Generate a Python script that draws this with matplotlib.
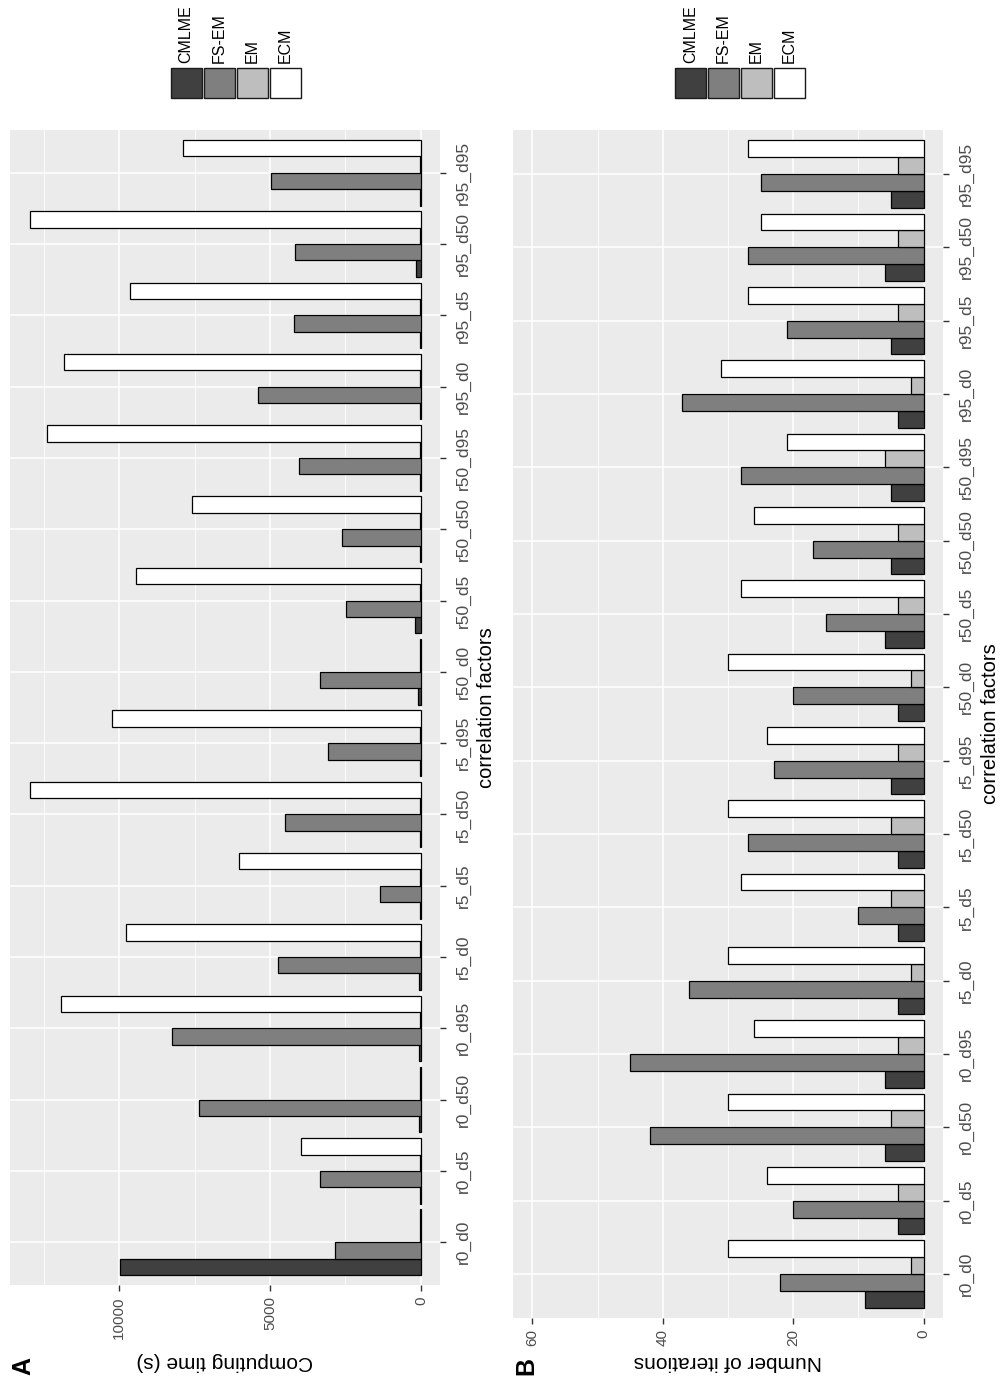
import matplotlib
matplotlib.use("Agg")
import matplotlib.pyplot as plt
import numpy as np
from matplotlib.patches import Rectangle

plt.rcParams["font.family"] = ["Liberation Sans", "DejaVu Sans"]

# scenario labels, bottom to top
categories = [
    "r0_d0", "r0_d5", "r0_d50", "r0_d95",
    "r5_d0", "r5_d5", "r5_d50", "r5_d95",
    "r50_d0", "r50_d5", "r50_d50", "r50_d95",
    "r95_d0", "r95_d5", "r95_d50", "r95_d95",
]
methods = ["CMLME", "FS-EM", "EM", "ECM"]
fills = ["#404040", "#7f7f7f", "#bebebe", "#ffffff"]

# computing time (s)
time_cmlme = [9987, 15, 50, 50, 50, 15, 15, 15, 110, 200, 15, 15, 15, 15, 166, 15]
time_fsem = [2860, 3337, 7350, 8258, 4733, 1363, 4490, 3082, 3337, 2472, 2616, 4057, 5410, 4201, 4157, 4966]
time_em = [15, 15, 15, 15, 15, 15, 15, 15, 15, 15, 15, 15, 15, 15, 15, 15]
time_ecm = [15, 3968, 15, 11917, 9788, 6042, 12970, 10233, 15, 9456, 7572, 12394, 11816, 9644, 12970, 7872]

# number of iterations
iter_cmlme = [9, 4, 6, 6, 4, 4, 4, 5, 4, 6, 5, 5, 4, 5, 6, 5]
iter_fsem = [22, 20, 42, 45, 36, 10, 27, 23, 20, 15, 17, 28, 37, 21, 27, 25]
iter_em = [2, 4, 5, 4, 2, 5, 5, 4, 2, 4, 4, 6, 2, 4, 4, 4]
iter_ecm = [30, 24, 30, 26, 30, 28, 30, 24, 30, 28, 26, 21, 31, 27, 25, 27]

W, H = 1002, 1379
fig = plt.figure(figsize=(W / 100, H / 100), dpi=100)


def px_rect(x0, y0, x1, y1):
    return [x0 / W, 1 - y1 / H, (x1 - x0) / W, (y1 - y0) / H]


def fxy(x, y):
    return x / W, 1 - y / H


def draw_panel(ax, series, xlim, major, minor):
    ax.set_facecolor("#ebebeb")
    y = np.arange(len(categories))
    w = 0.23
    for k, (vals, fc) in enumerate(zip(series, fills)):
        ax.barh(y + (k - 1.5) * w, vals, height=w, color=fc,
                edgecolor="black", linewidth=0.9, zorder=3)
    ax.set_xlim(*xlim)
    ax.set_ylim(-0.6, len(categories) - 0.4)
    ax.set_xticks(major)
    ax.set_xticks(minor, minor=True)
    ax.set_yticks(y)
    ax.set_yticklabels(categories)
    ax.grid(which="major", color="white", linewidth=1.1, zorder=0)
    ax.grid(which="minor", axis="x", color="white", linewidth=0.6, zorder=0)
    ax.set_axisbelow(True)
    for s in ax.spines.values():
        s.set_visible(False)
    ax.yaxis.tick_right()
    ax.tick_params(axis="y", which="major", length=4, width=1, color="#333333",
                   labelsize=12.5, labelcolor="#4d4d4d", pad=7)
    ax.tick_params(axis="x", which="major", length=4, width=1, color="#333333",
                   labelsize=11, labelcolor="#4d4d4d", pad=4)
    ax.tick_params(which="minor", length=0)
    plt.setp(ax.get_yticklabels(), rotation=90, va="center", ha="left")
    plt.setp(ax.get_xticklabels(), rotation=90, va="top", ha="center")


def draw_legend(x_start):
    for k, (name, fc) in enumerate(zip(methods, fills)):
        x0 = x_start + k * 33
        fig.add_artist(Rectangle(fxy(x0, 98), 31 / W, 30 / H,
                                 transform=fig.transFigure, facecolor=fc,
                                 edgecolor="#1a1a1a", linewidth=1.0))
        tx, ty = fxy(x0 + 15.5, 63)
        fig.text(tx, ty, name, rotation=90, ha="center", va="bottom",
                 fontsize=11.5, color="black")


ax_a = fig.add_axes(px_rect(10, 130, 440.5, 1285))
t_max = max(time_ecm)
draw_panel(ax_a, [time_cmlme, time_fsem, time_em, time_ecm],
           (t_max * 1.05, -t_max * 0.05), [0, 5000, 10000], [2500, 7500, 12500])

ax_b = fig.add_axes(px_rect(512.7, 130, 943.3, 1318))
draw_panel(ax_b, [iter_cmlme, iter_fsem, iter_em, iter_ecm],
           (63, -3), [0, 20, 40, 60], [10, 30, 50])

# axis titles and panel tags
fig.text(*fxy(487, 707.5), "correlation factors", rotation=90,
         ha="center", va="center", fontsize=14.5)
fig.text(*fxy(990, 724), "correlation factors", rotation=90,
         ha="center", va="center", fontsize=14.5)
fig.text(*fxy(225, 1362), "Computing time (s)", rotation=180,
         ha="center", va="center", fontsize=15)
fig.text(*fxy(728, 1362), "Number of iterations", rotation=180,
         ha="center", va="center", fontsize=15)
fig.text(*fxy(23, 1366), "A", rotation=90, ha="center", va="center",
         fontsize=18, fontweight="bold")
fig.text(*fxy(526, 1366), "B", rotation=90, ha="center", va="center",
         fontsize=18, fontweight="bold")

draw_legend(170.7)
draw_legend(675)

fig.savefig("out.png", dpi=100)
